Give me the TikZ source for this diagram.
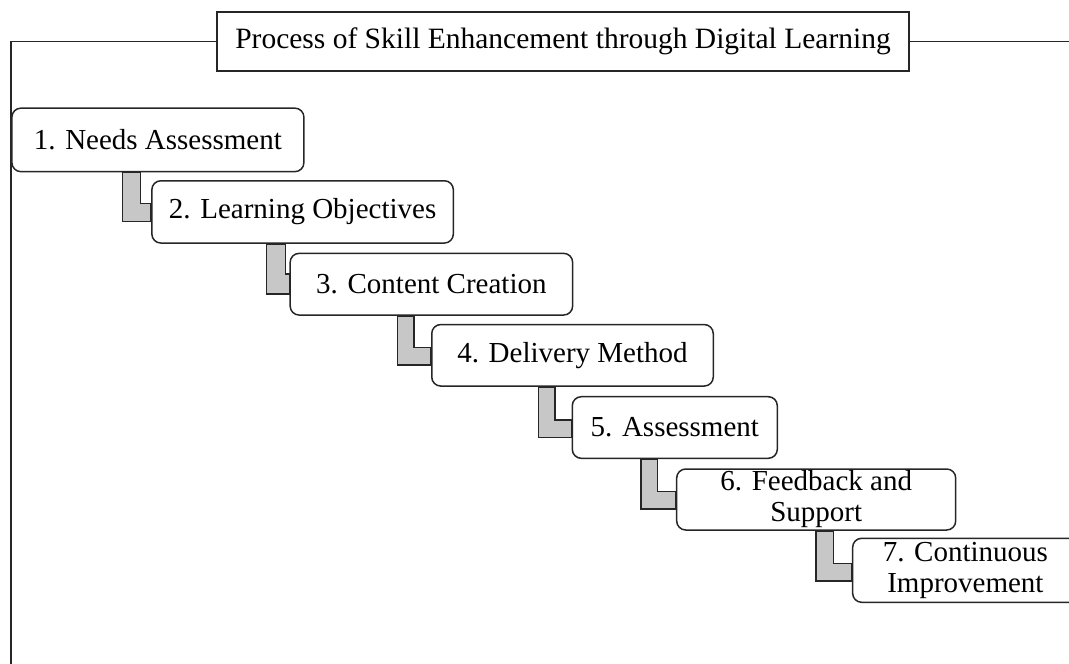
\documentclass[tikz,border=0pt]{standalone}
\usepackage{fontspec}
\setmainfont{Liberation Serif}
\pgfdeclarelayer{background}
\pgfsetlayers{background,main}
% elbow connector: from node, to node, outer x, inner x, inner y, outer y
\newcommand{\stepelbow}[6]{%
  \coordinate (eo) at (#3,#6);
  \coordinate (ei) at (#4,#5);
  \draw[elbow] (#1.south -| eo) -- (eo) -- (#2.west |- eo) -- (#2.west |- ei)
    -- (ei) -- (#1.south -| ei) -- cycle;}
\begin{document}
\begin{tikzpicture}[x=1pt,y=-1pt,
  txt/.style={font=\fontsize{29}{31}\selectfont, text=black},
  stepbox/.style={txt, draw=black!85, line width=1.5pt, rounded corners=9pt,
    fill=white, inner sep=0pt, align=center},
  titlebox/.style={txt, font=\fontsize{29.5}{31}\selectfont, draw=black!85,
    line width=1.5pt, fill=white, inner sep=0pt},
  elbow/.style={draw=black!85, line width=1.5pt, fill=black!22},
  frameline/.style={draw=black!85, line width=1.5pt}]
\useasboundingbox (0,0) rectangle (1069,664);
\clip (0,0) rectangle (1069,664);

% title and surrounding frame
\node[titlebox, minimum width=692pt, minimum height=59pt] (title) at (563,41.5)
  {Process of Skill Enhancement through Digital Learning};
\draw[frameline] (title.west) -| (11,700);
\draw[frameline] (title.east) -- (1100,41.5);

% steps
\node[stepbox, minimum width=292pt, minimum height=63.5pt] (s1) at (157.9,139.9) {1. Needs Assessment};
\node[stepbox, minimum width=301.5pt, minimum height=62.3pt] (s2) at (302.6,211.9) {2. Learning Objectives};
\node[stepbox, minimum width=282.5pt, minimum height=61.7pt] (s3) at (431.4,284.2) {3. Content Creation};
\node[stepbox, minimum width=281.5pt, minimum height=61.5pt] (s4) at (572.5,355.3) {4. Delivery Method};
\node[stepbox, minimum width=205pt, minimum height=61.6pt] (s5) at (674.8,427.5) {5. Assessment};
\node[stepbox, minimum width=279pt, minimum height=61pt] (s6) at (816.2,499.5) {6. Feedback and\\Support};
\node[stepbox, minimum width=225.5pt, minimum height=64pt] (s7) at (965.4,570.3) {7. Continuous\\Improvement};

% elbow connectors behind the boxes
\begin{pgfonlayer}{background}
\stepelbow{s1}{s2}{122.7}{140.7}{203.3}{221.7}
\stepelbow{s2}{s3}{266.7}{285.7}{274}{294}
\stepelbow{s3}{s4}{397.3}{414}{347.3}{365}
\stepelbow{s4}{s5}{538.3}{555}{420}{437.3}
\stepelbow{s5}{s6}{641}{657.7}{491.7}{509}
\stepelbow{s6}{s7}{816}{833.3}{563.3}{581}
\end{pgfonlayer}
\end{tikzpicture}
\end{document}
